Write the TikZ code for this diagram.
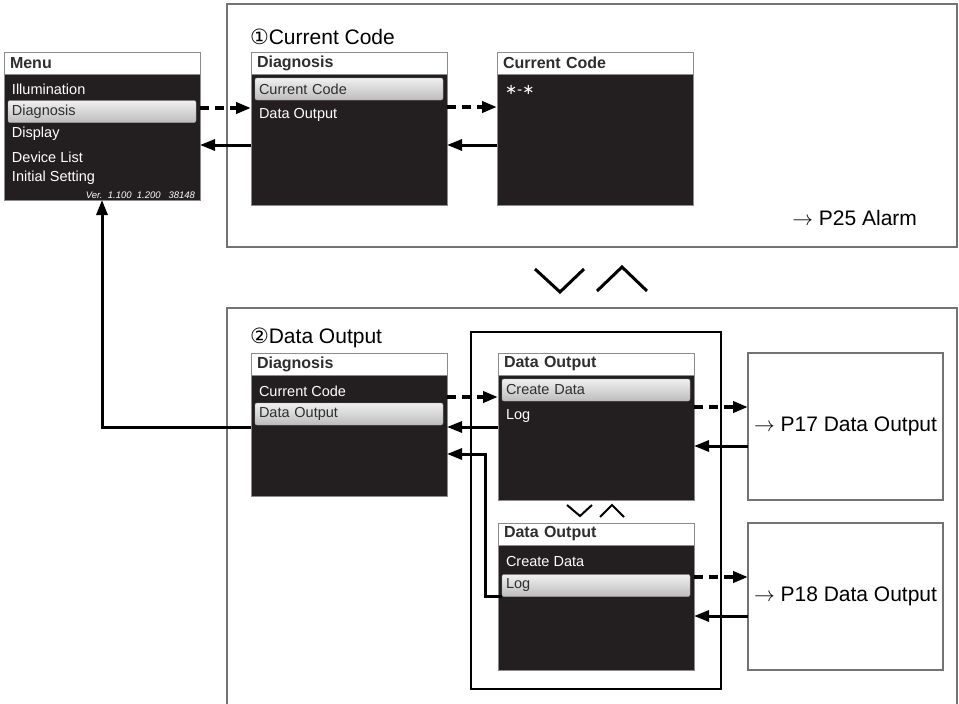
\documentclass[tikz,border=0pt]{standalone}
\usepackage{fontspec}
\setmainfont{Liberation Sans}
\newfontfamily\symfont{DejaVu Sans}
\usetikzlibrary{arrows.meta,calc}
\definecolor{ScreenInk}{HTML}{231F20}
\definecolor{ScreenEdge}{gray}{0.55}
\definecolor{FrameGray}{gray}{0.45}
\definecolor{PanelText}{gray}{0.18}
\tikzset{
    menu/diagram/.style={
        x=1pt, y=-1pt,
        line join=miter,
        every node/.style={inner sep=0pt, outer sep=0pt}
    },
    menu/frame/.style={draw=FrameGray, line width=1.6pt},
    menu/group/.style={draw=black, line width=1.1pt},
    menu/screen/.style={
        fill=ScreenInk, draw=ScreenEdge, line width=1pt,
        anchor=north west, minimum width=196pt, minimum height=#1
    },
    menu/title/.style={
        fill=white, draw=ScreenEdge, line width=0.8pt,
        anchor=north west, minimum height=22pt,
        text width=184pt, align=left, inner xsep=6pt,
        text=PanelText, font=\fontsize{16}{19}\selectfont\bfseries
    },
    menu/item/.style={
        anchor=west, text=white,
        font=\fontsize{14.5}{17}\selectfont
    },
    menu/selected/.style={
        anchor=west, text=PanelText,
        rounded corners=2pt, draw=gray!70,
        top color=gray!12, bottom color=gray!52,
        text width=180pt, inner xsep=4pt, minimum height=22pt,
        font=\fontsize{14.5}{17}\selectfont
    },
    menu/version/.style={
        anchor=east, text=white,
        font=\fontsize{9.5}{11}\selectfont\itshape
    },
    menu/heading/.style={text=black, font=\fontsize{21}{25}\selectfont},
    menu/target/.style={
        draw=FrameGray, line width=1.2pt,
        anchor=north west, minimum width=195pt, minimum height=147pt,
        font=\fontsize{21}{25}\selectfont
    },
    menu/next/.style={
        draw=black, line width=4pt, dash pattern=on 9pt off 6pt,
        -{Triangle[length=15pt, width=11pt]}
    },
    menu/back/.style={
        draw=black, line width=3pt,
        -{Triangle[length=15pt, width=11pt]}
    },
    menu/chevron/.style={draw=black, line width=3pt}
}
\newcommand{\goto}{$\rightarrow$\ }
\begin{document}
\begin{tikzpicture}[menu/diagram]
    \useasboundingbox (0,0) rectangle (959,704);
    % outer frames
    \draw[menu/frame] (227,4) rectangle (957,247);
    \draw[menu/frame] (227,308) rectangle (957,712);
    \draw[menu/group] (471,332) rectangle (721,689);
    \node[menu/heading, anchor=base west] (secCode) at (250,45) {{\symfont ①}Current Code};
    \node[menu/heading, anchor=base west] (secData) at (250,343) {{\symfont ②}Data Output};
    \node[menu/heading, anchor=east] (alarmRef) at (917,218) {\goto P25 Alarm};

    % main menu
    \node[menu/screen=148pt] (menu) at (4,52) {};
    \node[menu/title] (menuTitle) at (menu.north west) {Menu};
    \node[menu/item] (menuIllum) at (12,89) {Illumination};
    \node[menu/selected] (menuDiag) at (8,111.5) {Diagnosis};
    \node[menu/item] (menuDisp) at (12,134) {Display};
    \node[menu/item] (menuDev) at (12,157) {Device List};
    \node[menu/item] (menuInit) at (12,178) {Initial Setting};
    \node[menu/version] (menuVer) at (195,195) {Ver.\ \ 1.100\ \ 1.200\ \ \ 38148};

    % (1) current code
    \node[menu/screen=153pt] (diagA) at (251,52) {};
    \node[menu/title] (diagATitle) at (diagA.north west) {Diagnosis};
    \node[menu/selected] (diagACode) at (255,89) {Current Code};
    \node[menu/item] (diagAData) at (259,115) {Data Output};
    \node[menu/screen=153pt] (code) at (497,52) {};
    \node[menu/title] (codeTitle) at (code.north west) {Current Code};
    \node[menu/item] (codeValue) at (505,90) {{\symfont ∗-∗}};

    % (2) data output
    \node[menu/screen=143pt] (diagB) at (251,353) {};
    \node[menu/title] (diagBTitle) at (diagB.north west) {Diagnosis};
    \node[menu/item] (diagBCode) at (259,391) {Current Code};
    \node[menu/selected] (diagBData) at (255,414) {Data Output};
    \node[menu/screen=147pt] (outA) at (498,353) {};
    \node[menu/title] (outATitle) at (outA.north west) {Data Output};
    \node[menu/selected] (outACreate) at (502,390) {Create Data};
    \node[menu/item] (outALog) at (506,416) {Log};
    \node[menu/screen=147pt] (outB) at (498,523) {};
    \node[menu/title] (outBTitle) at (outB.north west) {Data Output};
    \node[menu/item] (outBCreate) at (506,562) {Create Data};
    \node[menu/selected] (outBLog) at (502,585.5) {Log};
    \node[menu/target] (pSeventeen) at (748,353) {\goto P17 Data Output};
    \node[menu/target] (pEighteen) at (748,523) {\goto P18 Data Output};

    % chevrons
    \draw[menu/chevron] (535,269) -- (560,292) -- (584,269);
    \draw[menu/chevron] (597,291) -- (622,267) -- (647,291);
    \draw[menu/chevron, line width=2pt] (567,505) -- (580,516) -- (592,505);
    \draw[menu/chevron, line width=2pt] (600,517) -- (612,505) -- (624,517);

    % connectors
    \draw[menu/next] ([yshift=-56pt]menu.north east) -- ([yshift=-56pt]diagA.north west);
    \draw[menu/back] ([yshift=-93pt]diagA.north west) -- ([yshift=-93pt]menu.north east);
    \draw[menu/next] ([yshift=-55pt]diagA.north east) -- ([yshift=-55pt]code.north west);
    \draw[menu/back] ([yshift=-93pt]code.north west) -- ([yshift=-93pt]diagA.north east);
    \draw[menu/next] ([yshift=-44pt]diagB.north east) -- ([yshift=-44pt]outA.north west);
    \draw[menu/back] ([yshift=-74pt]outA.north west) -- ([yshift=-74pt]diagB.north east);
    \coordinate (logBend) at (485,454);
    \draw[menu/back] (outBLog.south west) -| (logBend) -- (logBend -| diagB.east);
    \draw[menu/next] ([yshift=-54pt]outA.north east) -- ([yshift=-54pt]pSeventeen.north west);
    \draw[menu/back] ([yshift=-93pt]pSeventeen.north west) -- ([yshift=-93pt]outA.north east);
    \draw[menu/next] ([yshift=-54pt]outB.north east) -- ([yshift=-54pt]pEighteen.north west);
    \draw[menu/back] ([yshift=-93pt]pEighteen.north west) -- ([yshift=-93pt]outB.north east);
    \draw[menu/back] ([yshift=-74pt]diagB.north west) -| (menu.south);
\end{tikzpicture}
\end{document}
